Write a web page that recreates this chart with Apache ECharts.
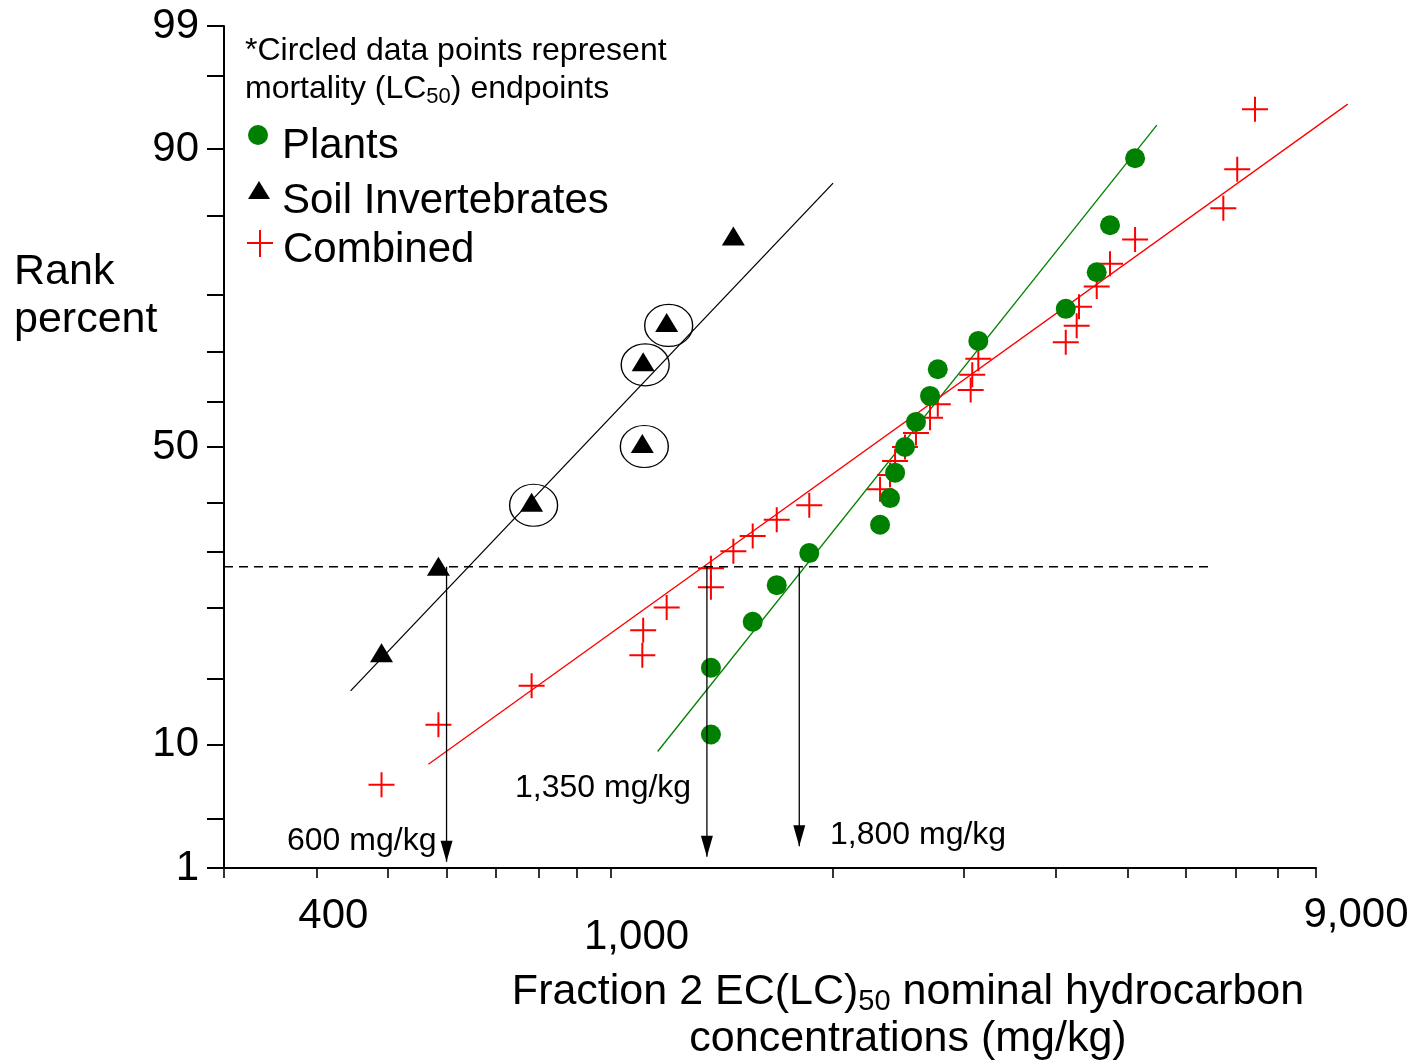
<!DOCTYPE html>
<html>
<head>
<meta charset="utf-8">
<title>Fraction 2 EC(LC)50 species sensitivity distribution</title>
<script src="https://cdn.jsdelivr.net/npm/echarts@6/dist/echarts.min.js"></script>
<style>
  html, body { margin: 0; padding: 0; background: #ffffff; }
  #chart { width: 1416px; height: 1060px; }
</style>
</head>
<body>
<div id="chart"></div>
<script>
// ---- Concentration axis (log scale, mg/kg) ----
const concRange = [300, 9000];
const concTicks = [300, 400, 500, 600, 700, 800, 900, 1000, 2000, 3000, 4000, 5000, 6000, 7000, 8000, 9000];
const concLabels = [400, 1000, 9000];

// ---- Rank percent axis (probit scale) ----
const rankRange = [3.5, 96.5];
const rankLabels = ['1', '10', '50', '90', '99'];
const rankLabelPos = [3.5, 10, 50, 90, 96.5];
const rankMinorTicks = [5.5, 15.9, 24.4, 32.6, 40.6, 57.7, 65.9, 74.4, 84.0, 94.5];

// ---- Plants: EC50 (mg/kg) and rank percent ----
const plantConc = [1367, 1367, 1557, 1678, 1857, 2315, 2388, 2426, 2502, 2589, 2705, 2771, 3144, 4128, 4546, 4738, 5123];
const plantRank = [10.8, 17.1, 22.6, 27.6, 32.4, 36.9, 41.3, 45.6, 50.0, 54.3, 58.7, 63.1, 67.6, 72.4, 77.4, 83.0, 89.3];

// ---- Soil invertebrates: EC/LC50 (mg/kg), rank percent, LC50 flag ----
const invertConc = [490, 585, 782, 1104, 1107, 1191, 1466];
const invertRank = [18.8, 30.4, 40.6, 50.6, 64.3, 70.4, 81.8];
const invertLC50 = [false, false, true, true, true, true, false];

// ---- Combined data set ----
const combinedConc = [490, 585, 782, 1104, 1107, 1191, 1367, 1367, 1466, 1557, 1678, 1857, 2315, 2388, 2426,
  2502, 2589, 2705, 2771, 3070, 3085, 3144, 4128, 4271, 4302, 4546, 4738, 5123, 6743, 7042, 7443];
const combinedRank = [7.3, 11.6, 15.2, 18.5, 21.5, 24.5, 27.3, 30.1, 32.7, 35.1, 37.7, 40.1, 42.8, 45.2, 47.6,
  50.0, 52.4, 55.0, 57.3, 59.7, 62.2, 64.8, 67.4, 69.9, 72.7, 75.5, 78.5, 81.4, 84.8, 88.4, 92.7];

// ---- Fitted distributions, end points as [mg/kg, rank %] ----
const invertFit = [[445, 14.7], [2000, 87.2]];
const plantFit = [[1158, 9.5], [5482, 91.7]];
const combinedFit = [[567, 8.6], [9935, 93.0]];

// ---- Threshold rank and the concentrations ----
const thresholdRank = 30.3;
const thresholdEnd = 6470;
const thresholdConc = [600, 1350, 1800];
const arrowTipRank = [3.71, 3.89, 4.29];

const FONT = '"Liberation Sans", Arial, Helvetica, sans-serif';
const GREEN = '#008000';
const RED = '#ff0000';
const CROSS = 'path://M0,11.5H26V13.5H0Z M12,0H14V25H12Z';
const ARROW_HEAD = 'path://M0,0H12L6,21Z';

// Inverse standard normal CDF (Acklam's rational approximation)
function probit(p) {
  const a = [-3.969683028665376e+01, 2.209460984245205e+02, -2.759285104469687e+02,
             1.383577518672690e+02, -3.066479806614716e+01, 2.506628277459239e+00];
  const b = [-5.447609879822406e+01, 1.615858368580409e+02, -1.556989798598866e+02,
             6.680131188771972e+01, -1.328068155288572e+01];
  const c = [-7.784894002430293e-03, -3.223964580411365e-01, -2.400758277161838e+00,
             -2.549732539343734e+00, 4.374664141464968e+00, 2.938163982698783e+00];
  const d = [7.784695709041462e-03, 3.224671290700398e-01, 2.445134137142996e+00,
             3.754408661907416e+00];
  const pl = 0.02425, ph = 1 - pl;
  let q, r;
  if (p < pl) {
    q = Math.sqrt(-2 * Math.log(p));
    return (((((c[0] * q + c[1]) * q + c[2]) * q + c[3]) * q + c[4]) * q + c[5]) /
           ((((d[0] * q + d[1]) * q + d[2]) * q + d[3]) * q + 1);
  }
  if (p <= ph) {
    q = p - 0.5; r = q * q;
    return (((((a[0] * r + a[1]) * r + a[2]) * r + a[3]) * r + a[4]) * r + a[5]) * q /
           (((((b[0] * r + b[1]) * r + b[2]) * r + b[3]) * r + b[4]) * r + 1);
  }
  q = Math.sqrt(-2 * Math.log(1 - p));
  return -(((((c[0] * q + c[1]) * q + c[2]) * q + c[3]) * q + c[4]) * q + c[5]) /
          ((((d[0] * q + d[1]) * q + d[2]) * q + d[3]) * q + 1);
}
const z = rank => probit(rank / 100);
const pt = (conc, rank) => [conc, z(rank)];

const rankLabelZ = rankLabelPos.map(z);
const rankTickZ = rankLabelZ.concat(rankMinorTicks.map(z)).sort((u, v) => u - v);
const thresholdZ = z(thresholdRank);

// Straight fitted line between two end points; may run past the plot edge
const fitLine = (name, pts, color) => ({
  name, type: 'custom', silent: true, clip: false,
  data: [[pts[0][0], z(pts[0][1]), pts[1][0], z(pts[1][1])]],
  encode: { x: [0, 2], y: [1, 3] },
  renderItem: (params, api) => {
    const a = api.coord([api.value(0), api.value(1)]);
    const b = api.coord([api.value(2), api.value(3)]);
    return {
      type: 'line',
      shape: { x1: a[0], y1: a[1], x2: b[0], y2: b[1] },
      style: { stroke: color, lineWidth: 1.3, fill: null }
    };
  }
});

const arrowSeries = thresholdConc.map((conc, i) => ({
  name: 'arrow ' + conc, type: 'line', silent: true,
  symbol: ARROW_HEAD, symbolSize: [12, 21], symbolOffset: [0, '-50%'],
  showSymbol: true,
  data: [
    { value: [conc, thresholdZ], symbol: 'none' },
    { value: [conc, z(arrowTipRank[i])] }
  ],
  lineStyle: { color: '#000', width: 1.3 },
  itemStyle: { color: '#000', opacity: 1 }
}));

const textStyle = (text, size) => ({ text, fontSize: size, fontFamily: FONT, fill: '#000', verticalAlign: 'middle' });

const chart = echarts.init(document.getElementById('chart'), null, { renderer: 'canvas' });

const option = {
  animation: false,
  textStyle: { fontFamily: FONT },
  grid: { left: 224, right: 100, top: 26, bottom: 192, containLabel: false, outerBoundsMode: 'none' },
  xAxis: {
    type: 'log', logBase: 10, min: concRange[0], max: concRange[1],
    name: 'Fraction 2 EC(LC){sub|50} nominal hydrocarbon\nconcentrations (mg/kg)',
    nameLocation: 'middle', nameGap: 101, nameMoveOverlap: false,
    nameTextStyle: {
      fontSize: 43, fontFamily: FONT, color: '#000', lineHeight: 47, padding: [0, 0, 0, 276],
      rich: { sub: { fontSize: 29, fontFamily: FONT, color: '#000', lineHeight: 16, verticalAlign: 'bottom' } }
    },
    axisLine: { show: true, onZero: false, lineStyle: { color: '#000', width: 2 } },
    axisTick: { show: true, customValues: concTicks, length: 10, lineStyle: { color: '#000', width: 1.6 } },
    axisLabel: {
      customValues: concLabels, margin: 4, color: '#000',
      formatter: v => {
        const i = concLabels.findIndex(c => Math.abs(c - v) / c < 1e-6);
        return i < 0 ? '' : '{' + 'abc'[i] + '|' + concLabels[i].toLocaleString('en-US') + '}';
      },
      rich: {
        a: { fontSize: 42, fontFamily: FONT, color: '#000', lineHeight: 42, padding: [47, 0, 0, 34] },
        b: { fontSize: 42, fontFamily: FONT, color: '#000', lineHeight: 42, padding: [88, 0, 0, 52] },
        c: { fontSize: 42, fontFamily: FONT, color: '#000', lineHeight: 42, padding: [45, 0, 0, 80] }
      }
    },
    splitLine: { show: false },
    minorTick: { show: false }
  },
  yAxis: {
    type: 'value', min: z(rankRange[0]), max: z(rankRange[1]),
    axisLine: { show: true, onZero: false, lineStyle: { color: '#000', width: 2 } },
    axisTick: { show: true, customValues: rankTickZ, length: 17, lineStyle: { color: '#000', width: 2 } },
    axisLabel: {
      customValues: rankLabelZ, margin: 25, fontSize: 42, fontFamily: FONT, color: '#000',
      formatter: v => {
        const i = rankLabelZ.findIndex(u => Math.abs(u - v) < 1e-6);
        return i < 0 ? '' : rankLabels[i];
      }
    },
    splitLine: { show: false }
  },
  series: [
    fitLine('Soil Invertebrates fit', invertFit, '#000'),
    fitLine('Plants fit', plantFit, GREEN),
    fitLine('Combined fit', combinedFit, RED),
    {
      name: 'threshold', type: 'line', silent: true, symbol: 'none',
      data: [[concRange[0], thresholdZ], [thresholdEnd, thresholdZ]],
      lineStyle: { color: '#000', width: 1.5, type: [9, 6] }
    },
    ...arrowSeries,
    {
      name: 'Combined', type: 'scatter', silent: true,
      symbol: CROSS, symbolSize: [26, 25],
      data: combinedConc.map((c, i) => pt(c, combinedRank[i])),
      itemStyle: { color: RED, opacity: 1 }
    },
    {
      name: 'Soil Invertebrates', type: 'scatter', silent: true,
      symbol: 'triangle', symbolSize: [23, 19],
      data: invertConc.map((c, i) => pt(c, invertRank[i])),
      itemStyle: { color: '#000', opacity: 1 }
    },
    {
      name: 'LC50 endpoints', type: 'scatter', silent: true,
      symbol: 'circle', symbolSize: [48, 42], symbolOffset: [2, 3],
      data: invertConc.map((c, i) => pt(c, invertRank[i])).filter((p, i) => invertLC50[i]),
      itemStyle: { color: 'rgba(0,0,0,0)', borderColor: '#000', borderWidth: 1.3, opacity: 1 }
    },
    {
      name: 'Plants', type: 'scatter', silent: true,
      symbol: 'circle', symbolSize: 20,
      data: plantConc.map((c, i) => pt(c, plantRank[i])),
      itemStyle: { color: GREEN, opacity: 1 }
    }
  ],
  graphic: [
    // y axis title
    { type: 'text', x: 14, y: 272, silent: true, style: textStyle('Rank', 43) },
    { type: 'text', x: 14, y: 320, silent: true, style: textStyle('percent', 43) },
    // note on circled points
    { type: 'text', x: 245, y: 51, silent: true, style: textStyle('*Circled data points represent', 32) },
    {
      type: 'text', x: 245, y: 89, silent: true,
      style: Object.assign(textStyle('mortality (LC{sub|50}) endpoints', 32), {
        lineHeight: 38,
        rich: { sub: { fontSize: 22, fontFamily: FONT, fill: '#000', lineHeight: 14, verticalAlign: 'bottom' } }
      })
    },
    // legend
    { type: 'circle', silent: true, shape: { cx: 258, cy: 135, r: 10 }, style: { fill: GREEN } },
    { type: 'polygon', silent: true, shape: { points: [[259, 181], [270, 199], [248, 199]] }, style: { fill: '#000' } },
    { type: 'rect', silent: true, shape: { x: 247, y: 242, width: 26, height: 2 }, style: { fill: RED } },
    { type: 'rect', silent: true, shape: { x: 259, y: 230, width: 2, height: 27 }, style: { fill: RED } },
    { type: 'text', x: 282, y: 146.5, silent: true, style: textStyle('Plants', 42) },
    { type: 'text', x: 282, y: 201.5, silent: true, style: textStyle('Soil Invertebrates', 42) },
    { type: 'text', x: 283, y: 250.5, silent: true, style: textStyle('Combined', 42) },
    // threshold concentration labels
    { type: 'text', x: 287, y: 841, silent: true, style: textStyle(thresholdConc[0].toLocaleString('en-US') + ' mg/kg', 32) },
    { type: 'text', x: 515, y: 788.5, silent: true, style: textStyle(thresholdConc[1].toLocaleString('en-US') + ' mg/kg', 32) },
    { type: 'text', x: 830, y: 835, silent: true, style: textStyle(thresholdConc[2].toLocaleString('en-US') + ' mg/kg', 32) }
  ]
};

chart.setOption(option);
</script>
</body>
</html>
